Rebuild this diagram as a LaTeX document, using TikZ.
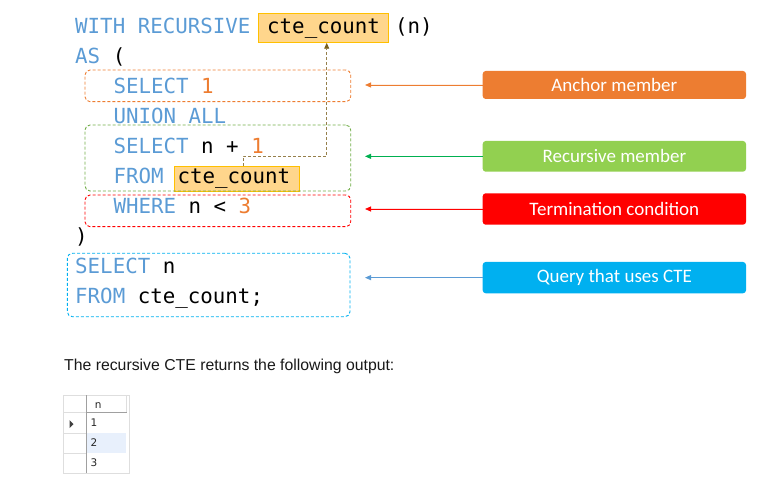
\documentclass[tikz,border=0pt]{standalone}
\usepackage{fontspec}
\setmainfont{Liberation Sans}
\newfontfamily\codefont{DejaVu Sans Mono}
\newfontfamily\calfont{Carlito}
\newfontfamily\tabfont{DejaVu Sans}
\usetikzlibrary{arrows.meta}
\definecolor{kw}{RGB}{91,155,213}
\definecolor{num}{RGB}{237,125,49}
\definecolor{anc}{RGB}{237,125,49}
\definecolor{recb}{RGB}{112,173,71}
\definecolor{recf}{RGB}{146,208,80}
\definecolor{reca}{RGB}{0,176,80}
\definecolor{term}{RGB}{255,0,0}
\definecolor{qryb}{RGB}{0,176,240}
\definecolor{qrya}{RGB}{91,155,213}
\definecolor{hlfill}{RGB}{255,214,140}
\definecolor{hlborder}{RGB}{255,192,0}
\definecolor{connc}{RGB}{150,128,75}
\definecolor{conntip}{RGB}{120,96,30}
\definecolor{gridl}{RGB}{222,222,222}
\definecolor{gridd}{RGB}{160,160,160}
\definecolor{selrow}{RGB}{232,240,252}
\begin{document}
\begin{tikzpicture}[x=1pt,y=-1pt,
  code/.style={font=\codefont\fontsize{20.8}{25}\selectfont, anchor=base west, inner sep=0pt, text=black},
  hl/.style={draw=hlborder, fill=hlfill, line width=0.9pt, inner sep=0pt},
  dbox/.style={draw, dash pattern=on 3pt off 2pt, line width=0.9pt, rounded corners=5pt, inner sep=0pt},
  lab/.style={rounded corners=3pt, text=white, font=\calfont\fontsize{19}{21}\selectfont, minimum width=263.3pt, inner sep=0pt},
  arr/.style={line width=0.8pt, -{Triangle[length=6pt,width=5pt]}},
  conn/.style={draw=connc, line width=0.9pt, dash pattern=on 3pt off 2pt, -{Triangle[length=6pt,width=5pt,color=conntip]}},
  tabtxt/.style={font=\tabfont\fontsize{10.5}{12}\selectfont, anchor=base west, inner sep=0pt, text=black!85}
]
\useasboundingbox (0,0) rectangle (782,481);

% highlight boxes
\node[hl, minimum width=130pt, minimum height=29pt] (cte1) at (323.3,27.8) {};
\node[hl, minimum width=125pt, minimum height=24.3pt] (cte2) at (236.8,178.85) {};

% dashed member boxes
\node[dbox, draw=anc, minimum width=265.7pt, minimum height=31.7pt] (anchbox) at (217.85,85.85) {};
\node[dbox, draw=recb, minimum width=265.7pt, minimum height=66pt] (recbox) at (217.85,158) {};
\node[dbox, draw=term, minimum width=265.7pt, minimum height=31.7pt] (termbox) at (217.85,210.85) {};
\node[dbox, draw=qryb, minimum width=282.7pt, minimum height=63.4pt] (qrybox) at (208.65,285) {};

% code lines
\node[code] (l1) at (75,33.3) {\textcolor{kw}{WITH RECURSIVE}};
\node[code] (l1b) at (267,33.3) {cte\_count};
\node[code] (l1c) at (395,33.3) {(n)};
\node[code] (l2) at (75,63.3) {\textcolor{kw}{AS} (};
\node[code] (l3) at (113.3,93.3) {\textcolor{kw}{SELECT} \textcolor{num}{1}};
\node[code] (l4) at (113.3,123.3) {\textcolor{kw}{UNION ALL}};
\node[code] (l5) at (113.3,153.3) {\textcolor{kw}{SELECT} n + \textcolor{num}{1}};
\node[code] (l6) at (113.3,183.3) {\textcolor{kw}{FROM}};
\node[code] (l6b) at (177.3,183.3) {cte\_count};
\node[code] (l7) at (113.3,213.3) {\textcolor{kw}{WHERE} n < \textcolor{num}{3}};
\node[code] (l8) at (75,243.3) {)};
\node[code] (l9) at (75,273.3) {\textcolor{kw}{SELECT} n};
\node[code] (l10) at (75,303.3) {\textcolor{kw}{FROM} cte\_count;};

% recursion connector
\draw[conn] ([xshift=6.5pt]cte2.north) -- ++(0,-10) -| ([xshift=3.4pt]cte1.south);

% labels
\node[lab, fill=anc, minimum height=28pt] (anchlab) at (614.35,85) {Anchor member};
\node[lab, fill=recf, minimum height=30.7pt] (reclab) at (614.35,156.35) {Recursive member};
\node[lab, fill=term, minimum height=31.4pt] (termlab) at (614.35,209) {Termination condition};
\node[lab, fill=qryb, minimum height=31.3pt] (qrylab) at (614.35,277.65) {Query that uses CTE};

\coordinate (tipx) at (365,0);
\draw[arr, draw=anc, fill=anc] (anchlab.west) -- (anchlab.west -| tipx);
\draw[arr, draw=reca, fill=reca] (reclab.west) -- (reclab.west -| tipx);
\draw[arr, draw=term, fill=term] (termlab.west) -- (termlab.west -| tipx);
\draw[arr, draw=qrya, fill=qrya] (qrylab.west) -- (qrylab.west -| tipx);

% sentence
\node[anchor=base west, inner sep=0pt, font=\fontsize{15.8}{18}\selectfont, text=black!90] (sent) at (64,370.7) {The recursive CTE returns the following output:};

% result table
\fill[selrow] (87,433.3) rectangle (126.3,453.3);
\draw[gridl, line width=0.8pt] (63,395) rectangle (129.7,473);
\draw[gridl, line width=0.8pt] (63,412.3) -- (86.3,412.3);
\draw[gridl, line width=0.8pt] (63,433.3) -- (86.3,433.3);
\draw[gridl, line width=0.8pt] (63,453.3) -- (86.3,453.3);
\draw[gridl, line width=0.8pt] (126.6,395) -- (126.6,412.3);
\draw[gridd, line width=0.8pt] (86.3,412.3) -- (126.6,412.3);
\draw[gridd, line width=0.8pt] (86.3,395) -- (86.3,473);
\fill[black!75] (69.5,420) -- (73.5,424) -- (69.5,428) -- cycle;
\node[tabtxt] (th) at (94.7,408) {n};
\node[tabtxt] (r1) at (90.3,426.7) {1};
\node[tabtxt] (r2) at (90.3,446.7) {2};
\node[tabtxt] (r3) at (90.3,466.7) {3};
\end{tikzpicture}
\end{document}
